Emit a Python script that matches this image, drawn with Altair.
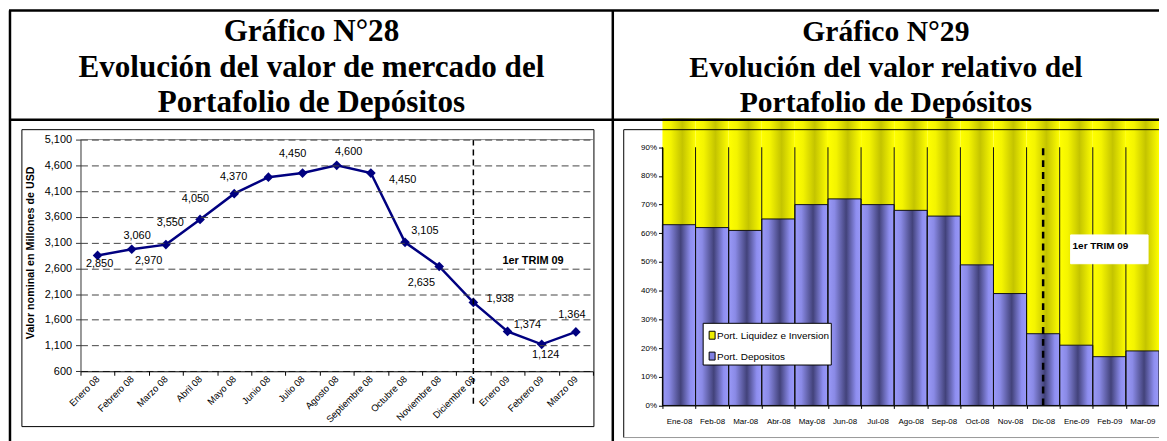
import altair as alt
import pandas as pd

# ---------------- data ----------------
meses_28 = ["Enero 08", "Febrero 08", "Marzo 08", "Abril 08", "Mayo 08", "Junio 08",
            "Julio 08", "Agosto 08", "Septiembre 08", "Octubre 08", "Noviembre 08",
            "Diciembre 08", "Enero 09", "Febrero 09", "Marzo 09"]
valores_28 = [2850, 2970, 3060, 3550, 4050, 4370, 4450, 4600, 4450, 3105, 2635, 1938, 1374, 1124, 1364]
ticks_28 = [600, 1100, 1600, 2100, 2600, 3100, 3600, 4100, 4600, 5100]

meses_29 = ["Ene-08", "Feb-08", "Mar-08", "Abr-08", "May-08", "Jun-08", "Jul-08", "Ago-08",
            "Sep-08", "Oct-08", "Nov-08", "Dic-08", "Ene-09", "Feb-09", "Mar-09"]
depositos_29 = [0.63, 0.62, 0.61, 0.65, 0.70, 0.72, 0.70, 0.68, 0.66, 0.49, 0.39, 0.25, 0.21, 0.17, 0.19]
ticks_29 = [0.0, 0.1, 0.2, 0.3, 0.4, 0.5, 0.6, 0.7, 0.8, 0.9]

titulo_28 = ["Gráfico N°28", "Evolución del valor de mercado del", "Portafolio de Depósitos"]
titulo_29 = ["Gráfico N°29", "Evolución del valor relativo del", "Portafolio de Depósitos"]
eje_y_28 = "Valor nominal en Millones de USD"
nota = "1er TRIM 09"
leyenda = ["Port. Liquidez e Inversion", "Port. Depositos"]

# label placement (pixel offsets of each data label from its point)
label_dx = [2, 17, -29, -30, -39, -35, -10, 12, 32, 20, -18, 27, 20, 4, -4]
label_dy = [9, 12, -9, 4, 5, 0, -19, -13, 7, -11, 17, -3, -6, 11, -17]

# ---------------- layout (view pixels) ----------------
W, H = 1159, 433
SANS = "Liberation Sans"
SERIF = "Liberation Serif"
L_X0, L_X1 = 73, 589
L_YB, L_YT = 364.3, 131
R_X0, R_X1 = 659, 1159
R_Y0, R_Y90 = 398.7, 138.7

df28 = pd.DataFrame({"mes": meses_28, "valor": valores_28, "dx": label_dx, "dy": label_dy})
df29 = pd.DataFrame({"mes": meses_29, "dep": depositos_29})
one = pd.DataFrame({"k": [0]})

# ---------------- left chart ----------------
sx28 = alt.Scale(type="band", domain=meses_28, range=[L_X0, L_X1], paddingInner=0, paddingOuter=0)
sy28 = alt.Scale(domain=[600, 5100], range=[L_YB, L_YT], nice=False, zero=False)

ax28x = alt.Axis(orient="bottom", offset=-(H - L_YB), labelAngle=315, labelAlign="right",
                 labelBaseline="middle", labelFont=SANS, labelFontSize=9.5, labelColor="black",
                 tickBand="extent", tickSize=4, tickColor="black", domainColor="black",
                 labelPadding=2, title=None, grid=False, labelOverlap=False, zindex=1)
ax28y = alt.Axis(orient="left", offset=-L_X0, values=ticks_28, labelExpr="format(datum.value, ',')",
                 labelFont=SANS, labelFontSize=11, labelColor="black", tickSize=5, tickColor="#333",
                 domainColor="#333", labelPadding=4, grid=True, gridDash=[7, 4],
                 gridColor="#444", gridWidth=1, title=None, labelOverlap=False, zindex=1)

line28 = alt.Chart(df28).mark_line(color="#000080", strokeWidth=2.5).encode(
    x=alt.X("mes:N", scale=sx28, axis=ax28x),
    y=alt.Y("valor:Q", scale=sy28, axis=ax28y))
pts28 = alt.Chart(df28).mark_point(shape="diamond", filled=True, size=95, color="#000080", opacity=1).encode(
    x=alt.X("mes:N", scale=sx28), y=alt.Y("valor:Q", scale=sy28))
lbl28 = alt.Chart(df28).mark_text(font=SANS, fontSize=11, color="black", align="center",
                                  baseline="middle", dx={"expr": "datum.dx"}, dy={"expr": "datum.dy"}).encode(
    x=alt.X("mes:N", scale=sx28), y=alt.Y("valor:Q", scale=sy28),
    text=alt.Text("valor:Q", format=","))
dash28 = alt.Chart(df28).transform_filter(alt.datum.mes == "Diciembre 08").mark_rule(
    color="black", strokeWidth=1.5, strokeDash=[6, 4]).encode(
    x=alt.X("mes:N", scale=sx28, bandPosition=0.5),
    y=alt.value(L_YT), y2=alt.value(397))

left = alt.layer(line28, pts28, lbl28, dash28)

# ---------------- right chart ----------------
sx29 = alt.Scale(type="band", domain=meses_29, range=[R_X0, R_X1], paddingInner=0, paddingOuter=0)
sy29 = alt.Scale(domain=[0, 0.9], range=[R_Y0, R_Y90], nice=False, zero=False)

ax29x = alt.Axis(orient="bottom", offset=-(H - R_Y0), labelAngle=0, labelFont=SANS, labelFontSize=8,
                 labelColor="black", tickBand="extent", tickSize=3, tickColor="black",
                 domainColor="black", labelPadding=9, title=None, grid=False,
                 labelOverlap=False, zindex=1)
ax29y = alt.Axis(orient="left", offset=-R_X0, values=ticks_29, format=".0%", labelFont=SANS,
                 labelFontSize=8, labelColor="black", tickSize=4, tickColor="black",
                 domainColor="black", labelPadding=2, grid=False, title=None,
                 labelOverlap=False, zindex=1)

blue_grad = alt.LinearGradient(gradient="linear", x1=0, x2=1, y1=0, y2=0, stops=[
    alt.GradientStop(color="#9a9af8", offset=0.0),
    alt.GradientStop(color="#8a8ae6", offset=0.2),
    alt.GradientStop(color="#42427a", offset=0.55),
    alt.GradientStop(color="#8e8ef0", offset=0.85),
    alt.GradientStop(color="#9a9af8", offset=1.0)])
yellow_grad = alt.LinearGradient(gradient="linear", x1=0, x2=1, y1=0, y2=0, stops=[
    alt.GradientStop(color="#ffff00", offset=0.0),
    alt.GradientStop(color="#f4f400", offset=0.25),
    alt.GradientStop(color="#c4c400", offset=0.6),
    alt.GradientStop(color="#f0f000", offset=0.9),
    alt.GradientStop(color="#ffff00", offset=1.0)])

yellow = alt.Chart(df29).mark_bar(fill=yellow_grad, strokeWidth=0).encode(
    x=alt.X("mes:N", scale=sx29, axis=ax29x),
    y=alt.Y("dep:Q", scale=sy29, axis=ax29y), y2=alt.datum(1.0))
blue = alt.Chart(df29).mark_bar(fill=blue_grad, stroke="#111", strokeWidth=1).encode(
    x=alt.X("mes:N", scale=sx29),
    y=alt.Y("dep:Q", scale=sy29), y2=alt.datum(0))
seps = alt.Chart(df29).mark_rule(color="#111", strokeWidth=1).encode(
    x=alt.X("mes:N", scale=sx29, bandPosition=0),
    y=alt.datum(0), y2=alt.datum(0.9))
dash29 = alt.Chart(df29).transform_filter(alt.datum.mes == "Dic-08").mark_rule(
    color="black", strokeWidth=2.5, strokeDash=[7, 5]).encode(
    x=alt.X("mes:N", scale=sx29, bandPosition=0.5),
    y=alt.datum(0), y2=alt.datum(0.9))

right = alt.layer(yellow, blue, seps, dash29)


# ---------------- decorations ----------------
def rule(x, y, x2=None, y2=None, w=2.5, color="black"):
    enc = {"x": alt.value(x), "y": alt.value(y)}
    if x2 is not None:
        enc["x2"] = alt.value(x2)
    if y2 is not None:
        enc["y2"] = alt.value(y2)
    return alt.Chart(one).mark_rule(strokeWidth=w, color=color).encode(**enc)


def box(x, y, x2, y2, fill="white", stroke="black", w=1):
    return alt.Chart(one).mark_rect(fill=fill, stroke=stroke, strokeWidth=w).encode(
        x=alt.value(x), y=alt.value(y), x2=alt.value(x2), y2=alt.value(y2))


def text(t, x, y, size, font=SANS, weight="normal", align="center", baseline="middle", angle=0):
    return alt.Chart(one).mark_text(text=t, font=font, fontSize=size, fontWeight=weight, angle=angle,
                                    color="black", align=align, baseline=baseline).encode(
        x=alt.value(x), y=alt.value(y))


frames = [
    rule(L_X0, L_YT, x2=L_X1, w=1, color="#888"),          # plot-area top edge
    text(nota, 528.7, 253, 11, weight="bold"),
    text(eje_y_28, 23, 245, 10.8, weight="bold", angle=270),
    box(14, 121, 590, 420, fill="transparent"),
    rule(620, 121, y2=431, w=1),
    rule(620, 121, x2=1165, w=1),
    rule(620, 431, x2=1165, w=1, color="#999"),
    # table lines
    rule(2, 1, y2=H + 5),
    rule(1, 1, x2=W + 5),
    rule(1, 111, x2=W + 5),
    rule(609, 1, y2=H + 5),
    # legend
    box(700, 316, 829, 358),
    box(706, 324, 712, 332, fill="#eeee00"),
    box(706, 345, 712, 353, fill="#8080e0"),
    text(leyenda[0], 714, 328.5, 10, align="left"),
    text(leyenda[1], 714, 349.5, 10, align="left"),
    # note box
    box(1070, 227, 1148, 256, stroke="white"),
    text(nota, 1072, 238, 10, weight="bold", align="left"),
]

titles = []
for i, (a, b) in enumerate(zip(titulo_28, titulo_29)):
    yb = [32, 68, 103][i]
    titles.append(text(a, 305.5, yb, 31.3, font=SERIF, weight="bold", baseline="alphabetic"))
    titles.append(text(b, 884, yb, 29.8, font=SERIF, weight="bold", baseline="alphabetic"))

chart = alt.layer(left, right, *frames, *titles).resolve_scale(
    x="independent", y="independent").properties(
    width=W, height=H, padding=0, autosize=alt.AutoSizeParams(type="none")
).configure(font=SANS).configure_view(strokeWidth=0)

chart.save("out.html", embed_options={"renderer": "svg", "actions": False})
